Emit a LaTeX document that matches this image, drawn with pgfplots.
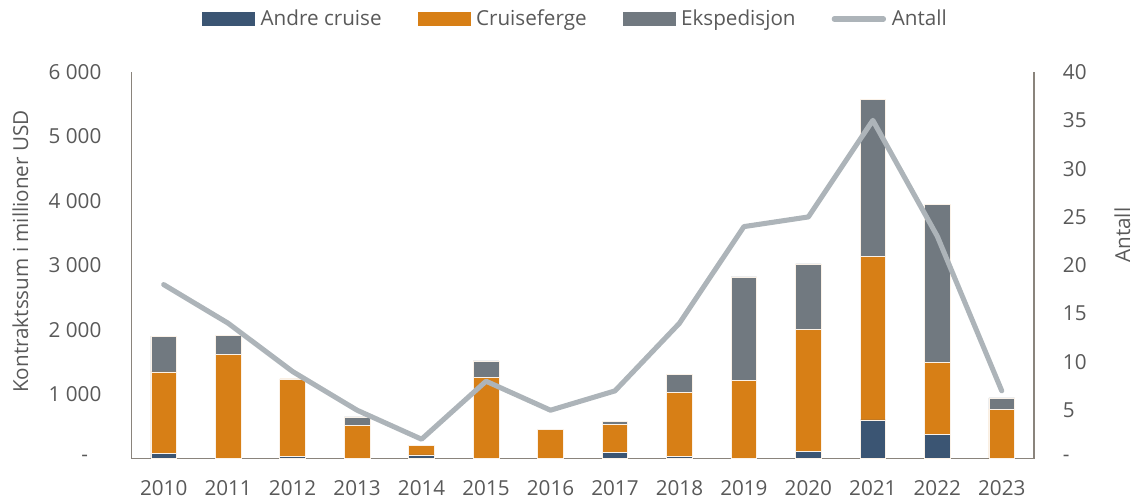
\documentclass[border=0pt]{standalone}
\usepackage{fontspec}
\setmainfont{Open Sans}
\usepackage{pgfplots}
\pgfplotsset{compat=1.18}
\definecolor{andre}{HTML}{3B5573}
\definecolor{cruise}{HTML}{D77F16}
\definecolor{eksp}{HTML}{717980}
\definecolor{antall}{HTML}{ADB4B9}
\definecolor{axisgray}{HTML}{8A847C}
\definecolor{txt}{HTML}{595959}
\newcommand{\chartfont}{\fontsize{15.5}{18}\selectfont}
\begin{document}
\begin{tikzpicture}
\useasboundingbox (-98.6pt,-30.4pt) rectangle (753.4pt,343.9pt);
\begin{axis}[
  scale only axis, width=676.9pt, height=289.9pt,
  at={(0,0)}, anchor=south west,
  xmin=-0.5, xmax=13.5, ymin=0, ymax=6000,
  ybar stacked, bar width=19.2pt,
  axis x line*=bottom, axis y line*=left,
  axis line style={draw=axisgray, line width=0.9pt, -},
  major tick length=0pt,
  xtick={0,...,13},
  xticklabels={2010,2011,2012,2013,2014,2015,2016,2017,2018,2019,2020,2021,2022,2023},
  ytick={0,1000,2000,3000,4000,5000,6000},
  yticklabels={{-\rule{10pt}{0pt}},{1 000},{2 000},{3 000},{4 000},{5 000},{6 000}},
  tick label style={font=\chartfont, text=txt},
  xticklabel style={anchor=base, inner sep=0pt, yshift=-28pt},
  yticklabel style={anchor=east, inner sep=0pt, xshift=-22.4pt},
  ylabel={Kontraktssum i millioner USD},
  ylabel style={at={(axis description cs:-0.1144,0.5356)}, anchor=base, font=\chartfont, text=txt},
  legend style={at={(axis description cs:0.4909,1.1371)}, anchor=center, draw=none, fill=none,
    legend columns=-1, font=\chartfont, text=txt, nodes={inner sep=0pt, anchor=west},
    /tikz/every odd column/.append style={column sep=4.3pt},
    /tikz/every even column/.append style={column sep=27pt}},
  legend cell align=left,
]
\addplot[fill=andre, draw=white!90!cruise, line width=0.5pt,
  legend image code/.code={\fill[andre] (0pt,-5pt) rectangle (39pt,5pt);}]
  coordinates {(0,75) (1,0) (2,30) (3,0) (4,55) (5,0) (6,0) (7,100) (8,30) (9,0) (10,105) (11,600) (12,370) (13,0)};
\addlegendentry{Andre cruise}
\addplot[fill=cruise, draw=white!90!cruise, line width=0.5pt,
  legend image code/.code={\fill[cruise] (0pt,-5pt) rectangle (39pt,5pt);}]
  coordinates {(0,1270) (1,1620) (2,1205) (3,515) (4,145) (5,1260) (6,458) (7,430) (8,1000) (9,1215) (10,1905) (11,2540) (12,1118) (13,765)};
\addlegendentry{Cruiseferge}
\addplot[fill=eksp, draw=white!90!cruise, line width=0.5pt,
  legend image code/.code={\fill[eksp] (0pt,-5pt) rectangle (39pt,5pt);}]
  coordinates {(0,555) (1,290) (2,0) (3,130) (4,0) (5,255) (6,0) (7,45) (8,270) (9,1605) (10,1010) (11,2435) (12,2460) (13,175)};
\addlegendentry{Ekspedisjon}
\addlegendimage{legend image code/.code={\draw[antall, line width=3.8pt, line cap=round] (2pt,0pt) -- (39pt,0pt);}}
\addlegendentry{Antall}
\end{axis}
\begin{axis}[
  scale only axis, width=676.9pt, height=289.9pt,
  at={(0,0)}, anchor=south west,
  xmin=-0.5, xmax=13.5, ymin=0, ymax=40,
  hide x axis, axis y line*=right,
  axis line style={draw=axisgray, line width=0.9pt, -},
  major tick length=0pt,
  ytick={0,5,10,15,20,25,30,35,40},
  yticklabels={-,5,10,15,20,25,30,35,40},
  tick label style={font=\chartfont, text=txt},
  yticklabel style={anchor=west, inner sep=0pt, xshift=21.5pt},
  ylabel={Antall},
  ylabel style={at={(axis description cs:1.1064,0.578)}, anchor=base, font=\chartfont, text=txt},
]
\addplot[color=antall, line width=3.8pt, line join=round, line cap=round, mark=none]
  coordinates {(0,18) (1,14) (2,9) (3,5) (4,2) (5,8) (6,5) (7,7) (8,14) (9,24) (10,25) (11,35) (12,23) (13,7)};
\end{axis}
\end{tikzpicture}
\end{document}
